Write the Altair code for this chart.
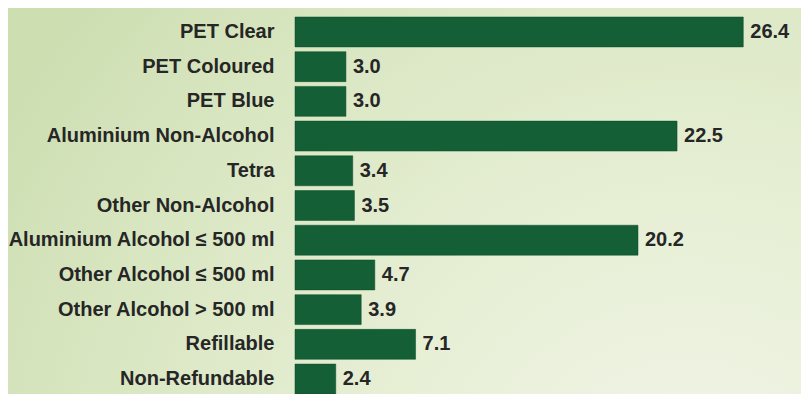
import altair as alt
import pandas as pd

categories = [
    "PET Clear", "PET Coloured", "PET Blue", "Aluminium Non-Alcohol", "Tetra",
    "Other Non-Alcohol", "Aluminium Alcohol \u2264 500 ml", "Other Alcohol \u2264 500 ml",
    "Other Alcohol > 500 ml", "Refillable", "Non-Refundable",
]
values = [26.4, 3.0, 3.0, 22.5, 3.4, 3.5, 20.2, 4.7, 3.9, 7.1, 2.4]

df = pd.DataFrame({"category": categories, "value": values})

FONT = "Liberation Sans, Arial, sans-serif"
W, H = 506, 377

bg = alt.Chart(pd.DataFrame({"a": [0]})).mark_rect(
    color={
        "gradient": "radial",
        "x1": 0.85, "y1": 0.9, "r1": 0.0,
        "x2": 0.85, "y2": 0.9, "r2": 1.0,
        "stops": [
            {"offset": 0.0, "color": "#f3f6eb"},
            {"offset": 0.4, "color": "#e7efd5"},
            {"offset": 0.8, "color": "#d7e5bf"},
            {"offset": 1.0, "color": "#cddeb1"},
        ],
    }
).encode(
    x=alt.value(-290), x2=alt.value(W + 10),
    y=alt.value(-12), y2=alt.value(H + 12),
)

y_enc = alt.Y(
    "category:N", sort=categories, title=None,
    scale=alt.Scale(paddingInner=0.138, paddingOuter=0.0),
    axis=alt.Axis(domain=False, ticks=False, labelPadding=21, labelFont=FONT,
                  labelFontSize=20, labelFontWeight="bold", labelColor="#262626",
                  labelLimit=400, labelAlign="right", zindex=2),
)
x_enc = alt.X("value:Q", title=None, scale=alt.Scale(domain=[0, 29.8], nice=False),
              axis=None)

bars = alt.Chart(df).mark_bar(color="#145f36", stroke="#0e4a29", strokeWidth=0.5).encode(
    x=x_enc, y=y_enc
)
labels = alt.Chart(df).mark_text(
    align="left", baseline="middle", dx=7, font=FONT, fontSize=20,
    fontWeight="bold", color="#262626",
).encode(x=x_enc, y=alt.Y("category:N", sort=categories), text=alt.Text("value:Q", format=".1f"))

chart = alt.layer(bg, bars, labels).properties(
    width=W, height=H,
    autosize=alt.AutoSizeParams(type="none"),
    padding={"left": 287, "top": 9, "right": 0, "bottom": 0},
    background="#dde8c8",
).configure_view(stroke=None)

chart.save("out.html", embed_options={"renderer": "svg", "actions": False})
